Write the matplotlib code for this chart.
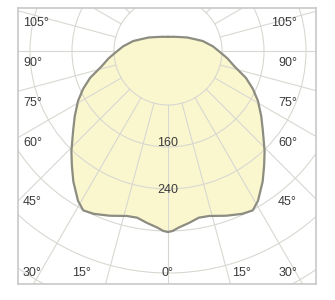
import matplotlib.pyplot as plt
import numpy as np
from matplotlib.patches import Circle

plt.rcParams["font.family"] = ["Liberation Sans Narrow", "Liberation Sans", "DejaVu Sans"]

# luminous intensity (cd), symmetric about 0 deg
angles = [0, 1.5, 3.5, 7, 10.5, 14, 19.5, 24.5, 28, 31, 36, 40, 44, 50, 55, 61, 66,
          71, 77, 83, 88, 96, 106, 113, 125, 142, 160, 180]
intensity = [322, 320, 314, 307, 300, 301, 310, 318, 321, 310, 284, 262, 242, 213,
             194, 173, 154, 134, 107, 91, 78, 63, 46, 34, 22, 11, 6, 4]

ring_values = [80, 160, 240, 320, 400, 480, 560]
ring_labels = ["160", "240"]
spoke_step = 15

side_labels = ["105°", "90°", "75°", "60°", "45°"]
bottom_labels = ["30°", "15°", "0°", "15°", "30°"]

FILL = "#faf7cf"
EDGE = "#8c8c80"
GRID = "#d8d8d2"
TEXT = "#3a3a3a"


def radius(v):
    # the scale starts a bit off the centre (inner white hub)
    return 12 + 0.525 * np.asarray(v, dtype=float)


# full curve: mirror the half curve
a = np.array(angles)
v = np.array(intensity)
theta = np.radians(np.concatenate([-a[::-1], a[1:]]))
vals = np.concatenate([v[::-1], v[1:]])
r = radius(vals)
x = r * np.sin(theta)
y = -r * np.cos(theta)

fig = plt.figure(figsize=(3.35, 3.0), dpi=100)
ax = fig.add_axes([18 / 335, 16 / 300, 298 / 335, 276 / 300])
ax.set_xlim(-150, 148)
ax.set_ylim(-233, 43)
ax.set_xticks([])
ax.set_yticks([])
for s in ax.spines.values():
    s.set_color("#c8c8c8")
    s.set_linewidth(1.2)

ax.fill(x, y, color=FILL, zorder=1, lw=0)

# grid: rings and spokes
for rv in ring_values:
    ax.add_patch(Circle((0, 0), radius(rv), fill=False, ec=GRID, lw=0.8, zorder=2))
r_in = radius(ring_values[0])
for ang in np.radians(np.arange(0, 360, spoke_step)):
    ax.plot([r_in * np.sin(ang), 400 * np.sin(ang)],
            [-r_in * np.cos(ang), -400 * np.cos(ang)],
            color=GRID, lw=0.8, zorder=2)

ax.plot(x, y, color=EDGE, lw=1.6, zorder=3, solid_joinstyle="round")


def px(xp, yp):
    return xp - 168, 51 - yp


fs = 9
side_y = [23, 63, 103, 143, 202]
for lab, yp in zip(side_labels, side_y):
    ax.text(*px(23, yp), lab, ha="left", va="center", fontsize=fs, color=TEXT, zorder=4)
    ax.text(*px(297, yp), lab, ha="right", va="center", fontsize=fs, color=TEXT, zorder=4)

bottom_x = [23, 82, 168, 242, 297]
bottom_ha = ["left", "center", "center", "center", "right"]
for lab, xp, ha in zip(bottom_labels, bottom_x, bottom_ha):
    ax.text(*px(xp, 273), lab, ha=ha, va="center", fontsize=fs, color=TEXT, zorder=4)

for lab, yp in zip(ring_labels, [143, 190]):
    ax.text(*px(168, yp), lab, ha="center", va="center", fontsize=fs, color=TEXT, zorder=4)

fig.savefig("out.png", dpi=100)
